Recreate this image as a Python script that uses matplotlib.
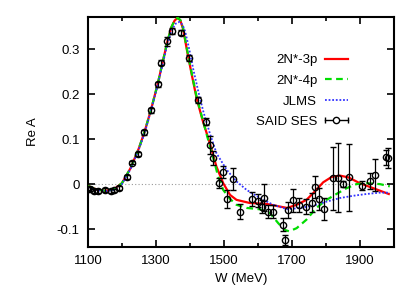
import matplotlib
matplotlib.use("Agg")
import matplotlib.pyplot as plt
from matplotlib.lines import Line2D
from matplotlib.legend_handler import HandlerBase
from matplotlib.ticker import MultipleLocator

plt.rcParams['font.family'] = ['Liberation Sans', 'DejaVu Sans']

# ---- SAID SES data ----
said_w = [1100, 1106, 1118, 1130, 1150, 1168, 1177, 1191, 1214, 1229, 1246, 1266,
          1285, 1305, 1316, 1334, 1346, 1374, 1398, 1424, 1446, 1459, 1469, 1485,
          1498, 1510, 1526, 1547, 1583, 1600, 1611, 1619, 1629, 1643, 1673, 1681,
          1688, 1704, 1721, 1741, 1758, 1767, 1781, 1794, 1821, 1836, 1851, 1868,
          1907, 1930, 1945, 1976, 1984]
said_a = [-0.010, -0.011, -0.015, -0.015, -0.013, -0.015, -0.014, -0.009, 0.016, 0.048,
          0.067, 0.115, 0.164, 0.222, 0.270, 0.318, 0.341, 0.337, 0.281, 0.187, 0.139,
          0.087, 0.058, 0.002, 0.027, -0.034, 0.012, -0.061, -0.033, -0.037, -0.050,
          -0.030, -0.061, -0.061, -0.090, -0.124, -0.057, -0.036, -0.047, -0.050, -0.041,
          -0.007, -0.033, -0.055, 0.013, 0.014, 0.001, 0.015, -0.004, 0.007, 0.020,
          0.060, 0.058]
said_err = [0.004, 0.004, 0.004, 0.004, 0.004, 0.004, 0.004, 0.004, 0.004, 0.004,
            0.004, 0.005, 0.005, 0.005, 0.006, 0.010, 0.006, 0.006, 0.006, 0.006, 0.008,
            0.021, 0.015, 0.011, 0.014, 0.020, 0.024, 0.017, 0.015, 0.014, 0.015,
            0.030, 0.015, 0.015, 0.014, 0.011, 0.018, 0.026, 0.016, 0.017, 0.021,
            0.025, 0.024, 0.024, 0.070, 0.077, 0.007, 0.075, 0.010, 0.017, 0.036,
            0.017, 0.022]

# ---- model curves ----
n3p_w = [1100, 1125, 1150, 1175, 1200, 1225, 1250, 1266, 1285, 1305, 1320, 1334, 1346,
         1355, 1364, 1372, 1380, 1392, 1405, 1420, 1437, 1459, 1478, 1498, 1518, 1537,
         1576, 1625, 1665, 1686, 1714, 1743, 1768, 1792, 1817, 1841, 1866, 1900, 1939,
         1985]
n3p_a = [-0.004, -0.012, -0.015, -0.012, 0.002, 0.035, 0.080, 0.115, 0.164, 0.222,
         0.272, 0.318, 0.350, 0.364, 0.370, 0.364, 0.345, 0.295, 0.245, 0.190, 0.143,
         0.090, 0.039, 0.002, -0.024, -0.035, -0.042, -0.044, -0.050, -0.053, -0.046,
         -0.035, -0.016, 0.004, 0.016, 0.019, 0.015, 0.002, -0.009, -0.022]

n4p_w = [1100, 1125, 1150, 1175, 1200, 1225, 1250, 1266, 1285, 1305, 1320, 1334, 1346,
         1355, 1364, 1372, 1380, 1392, 1405, 1420, 1437, 1455, 1469, 1483, 1498, 1518,
         1537, 1567, 1606, 1635, 1660, 1679, 1692, 1714, 1743, 1772, 1802, 1831, 1861,
         1890, 1919, 1959, 1988]
n4p_a = [-0.004, -0.012, -0.015, -0.012, 0.002, 0.035, 0.080, 0.115, 0.164, 0.222,
         0.272, 0.318, 0.350, 0.364, 0.370, 0.365, 0.347, 0.298, 0.248, 0.193, 0.145,
         0.095, 0.058, 0.017, -0.013, -0.033, -0.046, -0.053, -0.056, -0.064, -0.087,
         -0.102, -0.105, -0.098, -0.079, -0.053, -0.035, -0.022, -0.009, 0.000, 0.002,
         0.000, -0.005]

jlms_w = [1100, 1125, 1150, 1175, 1200, 1225, 1250, 1266, 1285, 1305, 1320, 1334, 1346,
          1358, 1369, 1378, 1386, 1398, 1410, 1425, 1440, 1459, 1478, 1508, 1537, 1567,
          1606, 1645, 1686, 1724, 1763, 1802, 1841, 1880, 1919, 1959, 1988]
jlms_a = [-0.006, -0.013, -0.016, -0.013, 0.000, 0.033, 0.078, 0.112, 0.162, 0.220,
          0.268, 0.312, 0.342, 0.357, 0.361, 0.355, 0.340, 0.300, 0.255, 0.205, 0.160,
          0.112, 0.069, 0.032, 0.006, -0.013, -0.031, -0.046, -0.056, -0.053, -0.048,
          -0.039, -0.031, -0.026, -0.022, -0.019, -0.019]

xticks = [1100, 1300, 1500, 1700, 1900]
yticks = [-0.1, 0, 0.1, 0.2, 0.3]
ytick_labels = ['-0.1', '0', '0.1', '0.2', '0.3']


class HandlerHErr(HandlerBase):
    def create_artists(self, legend, orig_handle, xdescent, ydescent, width, height,
                       fontsize, trans):
        y = (height - ydescent) / 2.0
        x0, x1 = -xdescent, width - xdescent
        ln = Line2D([x0, x1], [y, y], color='black', lw=1.0)
        caps = Line2D([x0, x1], [y, y], ls='none', marker='|', ms=5, mew=1.0, color='black')
        c = Line2D([(x0 + x1) / 2], [y], ls='none', marker='o', ms=4.5, mfc='white',
                   mec='black', mew=1.0)
        for a in (ln, caps, c):
            a.set_transform(trans)
        return [ln, caps, c]


fig = plt.figure(figsize=(4.09, 2.92), dpi=100)
ax = fig.add_axes([0.215, 0.154, 0.748, 0.788])

ax.axhline(0, color='#999999', lw=0.8, ls=(0, (1, 2)), zorder=0)

l1, = ax.plot(n3p_w, n3p_a, color='#ff0000', lw=1.6, label='2N*-3p', zorder=3)
l2, = ax.plot(n4p_w, n4p_a, color='#00dd00', lw=1.6, ls=(0, (3, 2)), label='2N*-4p', zorder=3)
l3, = ax.plot(jlms_w, jlms_a, color='#3333ff', lw=1.3, ls=(0, (1, 1)), label='JLMS', zorder=3)

ax.errorbar(said_w, said_a, yerr=said_err, fmt='o', ms=4.5, mfc='none', mec='black',
            mew=1.0, ecolor='black', elinewidth=0.9, capsize=2, capthick=0.9, zorder=4)
said_handle = Line2D([], [], color='black')

ax.set_xlim(1100, 2000)
ax.set_ylim(-0.14, 0.372)
ax.set_xticks(xticks)
ax.xaxis.set_minor_locator(MultipleLocator(100))
ax.set_yticks(yticks)
ax.set_yticklabels(ytick_labels)
ax.tick_params(which='both', direction='in', top=True, right=True, labelsize=9.5,
               width=1.2, pad=6)
ax.tick_params(which='major', length=5)
ax.tick_params(which='minor', length=3)
for s in ax.spines.values():
    s.set_linewidth(1.5)

ax.set_xlabel('W (MeV)', fontsize=9.5, labelpad=4)
ax.set_ylabel('Re A', fontsize=9.5, labelpad=13)

leg = ax.legend([l1, l2, l3, said_handle], ['2N*-3p', '2N*-4p', 'JLMS', 'SAID SES'],
                handler_map={said_handle: HandlerHErr()},
                loc='upper right', bbox_to_anchor=(0.849, 0.838), frameon=False,
                markerfirst=False, fontsize=9.5, handlelength=1.7, handletextpad=0.6,
                labelspacing=0.63, borderpad=0, borderaxespad=0)

fig.savefig('out.png', dpi=100)
